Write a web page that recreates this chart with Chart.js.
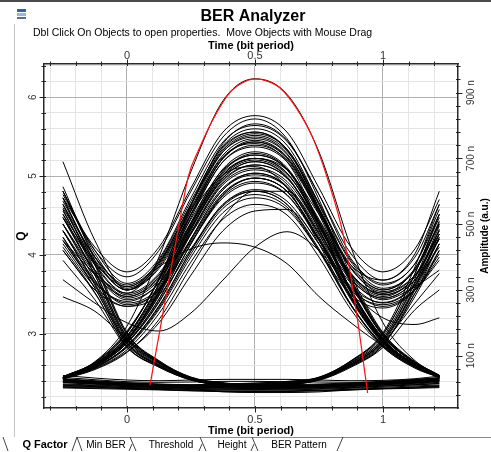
<!DOCTYPE html>
<html>
<head>
<meta charset="utf-8">
<script src="https://cdn.jsdelivr.net/npm/chart.js@4.4.1/dist/chart.umd.min.js"></script>
<style>
    html, body { margin: 0; padding: 0; background: #fff; }
    #wrap { position: relative; width: 491px; height: 452px; }
</style>
</head>
<body>
<div id="wrap"><canvas id="ber" width="491" height="452"></canvas></div>
<script>
/**
 * Sample times (bit period) shared by every eye trace.
 */
const T = [-0.25, -0.125, 0, 0.125, 0.25, 0.375, 0.5, 0.625, 0.75, 0.875, 1, 1.125, 1.22];

/**
 * Amplitude of each trace (n a.u.) at the times above, grouped by bit pattern.
 */
const zeroRail = [
    [34, 27, 21, 19, 20, 22, 22, 21, 20, 19, 21, 27, 33],
    [28, 22, 16, 12, 9, 7, 6, 7, 9, 12, 17, 23, 29],
    [22, 18, 13, 9, 6, 4, 3, 4, 6, 9, 13, 18, 24],
    [18, 14, 10, 6, 3, 1, 0, 1, 3, 6, 10, 14, 19],
    [14, 11, 7, 3, 0, -2, -3, -2, 0, 3, 7, 11, 15],
    [10, 7, 4, 1, -2, -4, -5, -4, -2, 1, 4, 8, 11],
    [6, 4, 1, -2, -5, -7, -8, -7, -5, -2, 1, 4, 7],
    [2, 0, -2, -4, -7, -9, -10, -9, -7, -4, -1, 1, 3],
    [40, 32, 26, 24, 26, 28, 28, 28, 26, 24, 25, 30, 38],
    [25, 20, 15, 11, 8, 5, 4, 5, 7, 10, 15, 21, 26],
    [12, 9, 6, 3, 1, -1, -1, 0, 2, 4, 8, 12, 16],
    [4, 2, 0, -3, -6, -8, -9, -8, -6, -3, 0, 2, 5],
    [20, 16, 12, 8, 5, 3, 2, 3, 5, 8, 12, 16, 21],
    [8, 6, 3, 0, -3, -10, -12, -12, -10, -4, 0, 5, 9]
];
const isolatedOnes = [
    [36, 82, 190, 400, 660, 875, 942, 895, 720, 430, 200, 85, 40],
    [35, 75, 168, 335, 560, 738, 790, 740, 560, 335, 168, 78, 40],
    [34, 72, 155, 305, 505, 668, 720, 672, 508, 300, 152, 72, 38],
    [36, 80, 175, 330, 530, 650, 675, 610, 440, 255, 128, 62, 34],
    [33, 68, 138, 262, 440, 590, 640, 600, 455, 275, 142, 70, 36],
    [32, 66, 130, 250, 418, 555, 600, 560, 425, 255, 134, 66, 35],
    [30, 62, 118, 228, 385, 515, 560, 528, 400, 240, 126, 64, 34],
    [30, 60, 112, 200, 345, 480, 540, 545, 440, 280, 145, 75, 38],
    [34, 74, 160, 318, 530, 700, 750, 702, 530, 318, 160, 76, 39],
    [33, 70, 148, 290, 482, 640, 690, 642, 485, 292, 150, 72, 37],
    [32, 68, 140, 272, 455, 605, 655, 612, 462, 278, 143, 70, 36],
    [31, 64, 128, 245, 410, 548, 590, 552, 418, 252, 132, 66, 35],
    [36, 80, 172, 330, 540, 705, 745, 690, 505, 295, 145, 68, 34],
    [29, 58, 110, 210, 370, 520, 600, 600, 480, 300, 155, 80, 40],
    [33, 72, 150, 295, 495, 660, 715, 668, 500, 300, 150, 72, 37]
];
const riseDipRise = [
    [34, 76, 160, 318, 528, 700, 755, 705, 548, 365, 295, 345, 470],
    [33, 70, 145, 285, 475, 630, 680, 640, 500, 345, 290, 365, 520],
    [35, 78, 170, 335, 555, 745, 805, 755, 590, 395, 320, 380, 545],
    [32, 68, 138, 265, 440, 585, 630, 590, 455, 310, 262, 320, 455],
    [33, 72, 150, 295, 490, 650, 700, 665, 530, 375, 330, 410, 600],
    [31, 64, 125, 240, 400, 535, 580, 545, 420, 285, 245, 300, 420],
    [34, 74, 150, 300, 500, 660, 710, 668, 515, 350, 285, 330, 430],
    [33, 72, 148, 292, 485, 645, 695, 652, 510, 350, 285, 340, 480],
    [32, 69, 140, 272, 455, 605, 650, 612, 475, 330, 275, 330, 460],
    [34, 75, 158, 312, 520, 690, 740, 695, 540, 368, 300, 360, 500],
    [31, 65, 130, 252, 420, 560, 605, 570, 440, 300, 255, 300, 390],
    [33, 71, 145, 282, 470, 625, 670, 630, 490, 335, 270, 310, 360]
];
const dipPeakFall = [
    [690, 450, 300, 380, 560, 730, 780, 728, 550, 330, 165, 80, 40],
    [614, 400, 300, 390, 570, 735, 780, 725, 545, 325, 160, 78, 39],
    [560, 380, 290, 350, 515, 665, 710, 665, 500, 300, 150, 74, 37],
    [520, 360, 275, 330, 490, 640, 690, 645, 485, 290, 145, 72, 36],
    [590, 420, 340, 420, 600, 765, 820, 760, 575, 345, 170, 82, 41],
    [480, 330, 255, 300, 450, 590, 640, 600, 450, 270, 138, 70, 35],
    [440, 310, 250, 285, 425, 560, 600, 560, 420, 255, 130, 66, 34],
    [600, 410, 305, 375, 545, 710, 760, 712, 540, 325, 162, 79, 40],
    [540, 375, 285, 345, 505, 655, 700, 656, 495, 298, 150, 74, 37],
    [500, 350, 270, 320, 475, 620, 665, 622, 470, 282, 142, 71, 36],
    [570, 400, 310, 385, 560, 720, 765, 715, 540, 325, 160, 78, 39],
    [460, 325, 260, 305, 455, 595, 640, 600, 455, 275, 138, 69, 35]
];
const dipPeakDip = [
    [600, 420, 320, 395, 580, 750, 800, 752, 590, 410, 330, 400, 560],
    [550, 390, 300, 370, 540, 700, 750, 700, 545, 375, 300, 365, 505],
    [500, 360, 280, 340, 500, 650, 700, 655, 505, 345, 280, 340, 470],
    [580, 430, 355, 430, 610, 780, 830, 780, 610, 430, 355, 425, 575],
    [450, 320, 265, 320, 470, 610, 655, 615, 470, 320, 260, 315, 440],
    [520, 380, 310, 380, 550, 720, 770, 722, 560, 385, 305, 360, 500],
    [560, 400, 315, 385, 560, 725, 775, 728, 565, 390, 315, 380, 530],
    [480, 345, 280, 335, 490, 635, 680, 640, 495, 340, 275, 330, 455],
    [530, 385, 300, 365, 530, 690, 735, 690, 535, 365, 290, 345, 480],
    [420, 300, 250, 300, 445, 580, 625, 588, 450, 305, 250, 300, 410]
];
const fallToZero = [
    [600, 390, 170, 85, 35, 18, 12, 12, 14, 17, 22, 28, 33],
    [560, 360, 158, 80, 32, 16, 9, 9, 11, 14, 19, 25, 30],
    [500, 330, 145, 75, 30, 14, 7, 7, 9, 12, 17, 22, 27],
    [460, 305, 135, 70, 28, 12, 5, 5, 7, 10, 14, 20, 25],
    [279, 235, 150, 80, 34, 14, 8, 7, 9, 12, 16, 21, 26],
    [390, 270, 125, 65, 26, 10, 4, 4, 6, 9, 13, 18, 23],
    [530, 345, 150, 78, 31, 15, 8, 8, 10, 13, 18, 24, 29],
    [580, 375, 165, 84, 34, 17, 10, 10, 12, 15, 20, 26, 31],
    [480, 315, 140, 72, 29, 13, 6, 6, 8, 11, 15, 21, 26],
    [430, 292, 128, 68, 27, 11, 4, 4, 6, 9, 13, 18, 23],
    [545, 355, 155, 80, 32, 16, 9, 9, 11, 14, 19, 25, 30]
];
const riseFromZero = [
    [30, 24, 18, 14, 12, 14, 17, 22, 35, 85, 170, 370, 560],
    [26, 20, 15, 11, 9, 11, 14, 19, 32, 80, 158, 335, 510],
    [24, 18, 13, 9, 7, 9, 12, 17, 30, 75, 145, 305, 460],
    [20, 15, 10, 6, 4, 6, 9, 14, 27, 70, 135, 280, 420],
    [22, 17, 12, 8, 6, 8, 11, 15, 28, 72, 140, 260, 350],
    [28, 22, 17, 13, 11, 13, 16, 21, 34, 84, 165, 350, 530],
    [25, 19, 14, 10, 8, 10, 13, 18, 31, 78, 150, 320, 485],
    [21, 16, 11, 7, 5, 7, 10, 15, 28, 68, 132, 290, 440],
    [19, 14, 9, 5, 3, 5, 8, 13, 25, 65, 125, 240, 300]
];
const fallAndRise = [
    [580, 380, 165, 82, 33, 16, 12, 16, 33, 82, 165, 350, 530],
    [480, 320, 140, 72, 29, 12, 8, 12, 29, 74, 145, 310, 470],
    [420, 290, 128, 66, 26, 10, 6, 10, 27, 68, 132, 290, 400],
    [520, 345, 150, 78, 31, 14, 10, 14, 31, 78, 152, 325, 495],
    [450, 305, 135, 70, 28, 11, 7, 11, 28, 72, 140, 300, 440]
];
const strayTraces = [
    [450, 350, 290, 370, 425, 443, 430, 380, 280, 200, 130, 75, 38],
    [331, 260, 200, 175, 230, 330, 430, 477, 420, 300, 215, 195, 215]
];

/**
 * Q factor against decision time (red curve, left axis).
 */
const qTime = [0.09, 0.15, 0.2, 0.24, 0.28, 0.335, 0.4, 0.45, 0.5, 0.55, 0.6, 0.66, 0.725, 0.785, 0.845, 0.895, 0.94];
const qValue = [2.35, 3.43, 4.32, 5.0, 5.33, 5.71, 6.05, 6.18, 6.23, 6.2, 6.11, 5.87, 5.49, 4.95, 4.25, 3.3, 2.25];

/**
 * Tick positions and the ones that carry a label.
 */
const timeTicks = [-0.3, -0.2, -0.1, 0, 0.1, 0.2, 0.3, 0.4, 0.5, 0.6, 0.7, 0.8, 0.9, 1, 1.1, 1.2];
const timeLabels = [0, 0.5, 1];
const qTicks = [2.2, 2.4, 2.6, 2.8, 3, 3.2, 3.4, 3.6, 3.8, 4, 4.2, 4.4, 4.6, 4.8, 5, 5.2, 5.4, 5.6, 5.8, 6, 6.2, 6.4];
const qLabels = [3, 4, 5, 6];
const ampTicks = [-20, 20, 60, 100, 140, 180, 220, 260, 300, 340, 380, 420, 460, 500, 540, 580, 620, 660, 700, 740, 780, 820, 860, 900, 940, 980];
const ampLabels = [100, 300, 500, 700, 900];

const FONT = '"Liberation Sans", Arial, sans-serif';
Chart.defaults.font.family = FONT;

const gridColor = (labels) => (c) => (c.tick && labels.includes(c.tick.value)) ? '#b0b0b0' : '#e4e4e4';
const setTicks = (list) => (axis) => { axis.ticks = list.map((v) => ({value: v})); };
const AXIS_BORDER = {color: '#2a2a2a', width: 1.5};

/**
 * Tick marks crossing the frame: longer ones where a label sits.
 */
const tickMarks = {
    id: 'tickMarks',
    afterDraw(chart) {
        const {ctx, chartArea: a} = chart;
        ctx.save();
        ctx.strokeStyle = '#222';
        ctx.lineWidth = 1;
        ['x', 'x2', 'y', 'y2'].forEach((id) => {
            const s = chart.scales[id];
            s.ticks.forEach((t) => {
                const p = Math.round(s.getPixelForValue(t.value)) + 0.5;
                const big = t.label !== '';
                const out = big ? 4.5 : 2.5;
                const inn = 2;
                ctx.beginPath();
                if (id === 'x') { ctx.moveTo(p, a.bottom - inn); ctx.lineTo(p, a.bottom + out); }
                if (id === 'x2') { ctx.moveTo(p, a.top + inn); ctx.lineTo(p, a.top - out); }
                if (id === 'y') { ctx.moveTo(a.left + inn, p); ctx.lineTo(a.left - out, p); }
                if (id === 'y2') { ctx.moveTo(a.right - inn, p); ctx.lineTo(a.right + out, p); }
                ctx.stroke();
            });
        });
        ctx.restore();
    }
};

/**
 * Window decorations: heading, right axis title, frame and the tab strip.
 */
const decorations = {
    id: 'decorations',
    beforeDraw(chart) {
        const ctx = chart.ctx;
        ctx.save();
        ctx.fillStyle = '#fff';
        ctx.fillRect(0, 0, chart.width, chart.height);
        ctx.restore();
    },
    afterDraw(chart) {
        const {ctx, chartArea: a} = chart;
        ctx.save();

        ctx.fillStyle = '#4a4a4a';
        ctx.fillRect(0, 0, chart.width, 2);

        ctx.strokeStyle = '#c4c4c4';
        ctx.lineWidth = 1;
        ctx.beginPath();
        ctx.moveTo(14.5, 24);
        ctx.lineTo(14.5, 437);
        ctx.stroke();

        // little window icon
        ctx.fillStyle = '#3d5f9e';
        ctx.fillRect(17, 9, 9, 3);
        ctx.fillStyle = '#9fb4d6';
        ctx.fillRect(17, 13, 9, 3);
        ctx.fillStyle = '#5a6f8f';
        ctx.fillRect(17, 17, 9, 2);

        ctx.fillStyle = '#000';
        ctx.textBaseline = 'middle';
        ctx.textAlign = 'center';
        ctx.font = 'bold 16px ' + FONT;
        ctx.fillText('BER Analyzer', 253, 17);
        ctx.textAlign = 'left';
        ctx.font = '10.5px ' + FONT;
        ctx.fillText('Dbl Click On Objects to open properties.  Move Objects with Mouse Drag', 33, 33.5);

        ctx.save();
        ctx.translate(485, (a.top + a.bottom) / 2);
        ctx.rotate(-Math.PI / 2);
        ctx.textAlign = 'center';
        ctx.font = 'bold 10px ' + FONT;
        ctx.fillText('Amplitude (a.u.)', 0, 0);
        ctx.restore();

        // tab strip
        ctx.strokeStyle = '#8c8c8c';
        ctx.beginPath();
        ctx.moveTo(77, 437.5);
        ctx.lineTo(chart.width, 437.5);
        ctx.stroke();
        ctx.strokeStyle = '#444';
        const edges = [
            [3, 437, 8, 451], [72, 451, 77, 437],
            [77, 437, 82, 451], [129, 451, 132, 444],
            [130, 437, 136, 451], [199, 451, 202, 444],
            [200, 437, 206, 451], [251, 451, 254, 444],
            [252, 437, 258, 451], [337, 451, 343, 437]
        ];
        edges.forEach(([x1, y1, x2, y2]) => {
            ctx.beginPath();
            ctx.moveTo(x1, y1);
            ctx.lineTo(x2, y2);
            ctx.stroke();
        });
        ctx.fillStyle = '#000';
        ctx.textAlign = 'center';
        ctx.font = 'bold 11px ' + FONT;
        ctx.fillText('Q Factor', 45, 445);
        ctx.font = '10px ' + FONT;
        ctx.fillText('Min BER', 106, 445);
        ctx.fillText('Threshold', 171, 445);
        ctx.fillText('Height', 232, 445);
        ctx.fillText('BER Pattern', 299, 445);

        ctx.restore();
    }
};

const onDOMLoaded = () => {
    const traceGroups = [zeroRail, isolatedOnes, riseDipRise, dipPeakFall, dipPeakDip,
        fallToZero, riseFromZero, fallAndRise, strayTraces];

    const traceSets = traceGroups.flat().map((vals) => ({
        data: vals.map((v, i) => ({x: T[i], y: v})),
        xAxisID: 'x',
        yAxisID: 'y2',
        borderColor: '#000',
        borderWidth: 1
    }));

    const qCurve = {
        data: qTime.map((t, i) => ({x: t, y: qValue[i]})),
        xAxisID: 'x',
        yAxisID: 'y',
        borderColor: '#ff1010',
        borderWidth: 1.2
    };

    new Chart(document.getElementById('ber'), {
        type: 'line',
        data: {datasets: [qCurve, ...traceSets]},
        plugins: [decorations, tickMarks],
        options: {
            responsive: false,
            animation: false,
            devicePixelRatio: 1,
            parsing: false,
            layout: {padding: {top: 40, bottom: 15, left: 0, right: 0}},
            elements: {
                point: {radius: 0},
                line: {cubicInterpolationMode: 'monotone', fill: false}
            },
            plugins: {legend: {display: false}, tooltip: {enabled: false}},
            scales: {
                x: {
                    type: 'linear', position: 'bottom', min: -0.324, max: 1.293,
                    afterBuildTicks: setTicks(timeTicks),
                    afterFit: (s) => { s.height = 29; },
                    grid: {color: gridColor(timeLabels), drawTicks: false},
                    border: AXIS_BORDER,
                    ticks: {
                        autoSkip: false, maxRotation: 0, padding: 6.5, color: '#333',
                        font: {size: 11, lineHeight: 1},
                        callback: (v) => timeLabels.includes(v) ? String(v) : ''
                    },
                    title: {
                        display: true, text: 'Time (bit period)', color: '#000',
                        font: {size: 11, weight: 'bold', lineHeight: 1}, padding: {top: 0, bottom: 1}
                    }
                },
                x2: {
                    type: 'linear', position: 'top', min: -0.324, max: 1.293,
                    afterBuildTicks: setTicks(timeTicks),
                    afterFit: (s) => { s.height = 24; },
                    grid: {drawOnChartArea: false, drawTicks: false},
                    border: AXIS_BORDER,
                    ticks: {
                        autoSkip: false, maxRotation: 0, padding: 2.8, color: '#333',
                        font: {size: 11, lineHeight: 1},
                        callback: (v) => timeLabels.includes(v) ? String(v) : ''
                    },
                    title: {
                        display: true, text: 'Time (bit period)', color: '#000',
                        font: {size: 11, weight: 'bold', lineHeight: 1}, padding: {top: 0, bottom: 0}
                    }
                },
                y: {
                    type: 'linear', position: 'left', min: 2.06, max: 6.42,
                    afterBuildTicks: setTicks(qTicks),
                    afterFit: (s) => { s.width = 44; },
                    grid: {color: gridColor(qLabels), drawTicks: false},
                    border: AXIS_BORDER,
                    ticks: {
                        autoSkip: false, minRotation: 90, maxRotation: 90, crossAlign: 'center',
                        padding: 7.9, color: '#333', font: {size: 10, lineHeight: 1},
                        callback: (v) => qLabels.includes(v) ? String(v) : ''
                    },
                    title: {
                        display: true, text: 'Q', color: '#000',
                        font: {size: 12, weight: 'bold', lineHeight: 1}, padding: {top: 15.7, bottom: 0}
                    }
                },
                y2: {
                    type: 'linear', position: 'right', min: -59, max: 987,
                    afterBuildTicks: setTicks(ampTicks),
                    afterFit: (s) => { s.width = 33; },
                    grid: {drawOnChartArea: false, drawTicks: false},
                    border: AXIS_BORDER,
                    ticks: {
                        autoSkip: false, minRotation: 90, maxRotation: 90, crossAlign: 'center',
                        padding: 1.2, color: '#333', font: {size: 10, lineHeight: 1},
                        callback: (v) => ampLabels.includes(v) ? v + ' n' : ''
                    }
                }
            }
        }
    });
};

document.addEventListener('DOMContentLoaded', onDOMLoaded);
</script>
</body>
</html>
